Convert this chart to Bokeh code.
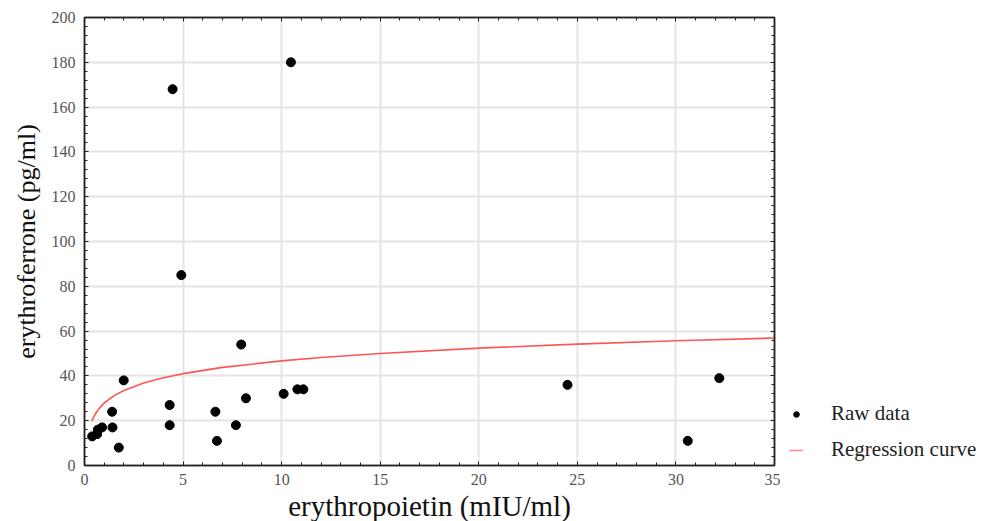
from bokeh.plotting import figure
from bokeh.layouts import row
from bokeh.models import (Legend, LegendItem, LinearAxis, Range1d, FixedTicker,
                          CustomJSTickFormatter)
from bokeh.embed import file_html
from bokeh.resources import INLINE

# Raw data
epo = [0.39, 0.64, 0.68, 0.89, 1.40, 1.42, 1.74, 1.99, 4.32, 4.32, 4.47, 4.91,
       6.64, 6.72, 7.68, 7.95, 8.19, 10.1, 10.47, 10.8, 11.1, 24.5, 30.6, 32.2]
erfe = [13, 14, 16, 17, 24, 17, 8, 38, 27, 18, 168, 85,
        24, 11, 18, 54, 30, 32, 180, 34, 34, 36, 11, 39]

# Regression curve, points
curve_x = [0.37, 0.45, 0.5, 0.6, 0.75, 1, 1.5, 2, 3, 4, 5, 7, 10, 12, 15, 20, 25, 30, 35]
curve_y = [19.8, 21.4, 22.2, 23.7, 25.5, 27.9, 31.2, 33.5, 36.8, 39.2, 41.0, 43.8,
           46.7, 48.2, 50.0, 52.4, 54.2, 55.7, 56.9]

x_ticks = [0, 5, 10, 15, 20, 25, 30, 35]
y_ticks = [0, 20, 40, 60, 80, 100, 120, 140, 160, 180, 200]
x_minor = list(range(0, 36))
y_minor = list(range(0, 201, 4))

FONT = "Liberation Serif"

p = figure(frame_width=690, frame_height=448, output_backend="svg", toolbar_location=None,
           x_range=Range1d(0, 35), y_range=Range1d(0, 200),
           min_border_left=84, min_border_right=6, min_border_top=17, min_border_bottom=56)
p.background_fill_color = "white"
p.border_fill_color = "white"
p.outline_line_color = "#333333"
p.outline_line_width = 1.5

curve = p.line(curve_x, curve_y, line_color="#ff5555", line_width=1.6)
pts = p.scatter(epo, erfe, size=9, fill_color="black", line_color="black")

def style_axis(ax):
    ax.axis_line_color = "#222222"
    ax.axis_line_width = 1.5
    ax.major_tick_line_color = "#222222"
    ax.minor_tick_line_color = "#222222"
    ax.major_tick_in = 4
    ax.major_tick_out = 0
    ax.minor_tick_in = 3
    ax.minor_tick_out = 0

for ax in (p.xaxis[0], p.yaxis[0]):
    style_axis(ax)
    ax.major_label_text_font = FONT
    ax.major_label_text_font_size = "16px"
    ax.major_label_text_color = "#555555"
    ax.axis_label_text_font = FONT
    ax.axis_label_text_font_style = "normal"
    ax.axis_label_text_color = "#111111"

p.xaxis[0].axis_label_text_font_size = "29px"
p.yaxis[0].axis_label_text_font_size = "26px"
p.xaxis[0].ticker = FixedTicker(ticks=x_ticks, minor_ticks=x_minor)
p.yaxis[0].ticker = FixedTicker(ticks=y_ticks, minor_ticks=y_minor)
p.xaxis[0].axis_label = "erythropoietin (mIU/ml)"
p.yaxis[0].axis_label = "erythroferrone (pg/ml)"
p.xaxis[0].major_label_standoff = 8
p.yaxis[0].major_label_standoff = 9
p.xaxis[0].axis_label_standoff = 2
p.yaxis[0].axis_label_standoff = 8

# top and right axes (ticks only)
blank = CustomJSTickFormatter(code="return ''")
top = LinearAxis(ticker=FixedTicker(ticks=x_ticks, minor_ticks=x_minor), formatter=blank)
right = LinearAxis(ticker=FixedTicker(ticks=y_ticks, minor_ticks=y_minor), formatter=blank)
for ax in (top, right):
    style_axis(ax)
    ax.major_label_standoff = 0
p.add_layout(top, "above")
p.add_layout(right, "right")

p.xgrid[0].ticker = FixedTicker(ticks=x_ticks)
p.ygrid[0].ticker = FixedTicker(ticks=y_ticks)
for g in (p.xgrid[0], p.ygrid[0]):
    g.grid_line_color = "#e4e4e4"
    g.grid_line_width = 2

# legend panel to the right of the plot; its proxies hold the same data,
# which falls outside this panel's (0..1) ranges so only the legend shows
lg = figure(width=226, height=521, output_backend="svg", toolbar_location=None,
            x_range=Range1d(0, 1), y_range=Range1d(0, 1),
            min_border=0, x_axis_type=None, y_axis_type=None)
lg.outline_line_color = None
lg.grid.visible = False
leg_dot = lg.scatter(epo, erfe, size=5, fill_color="black", line_color="black")
leg_line = lg.line(curve_x, curve_y, line_color="#ff8888", line_width=1.5)

legend = Legend(items=[LegendItem(label="Raw data", renderers=[leg_dot]),
                       LegendItem(label="Regression curve", renderers=[leg_line])],
                location=(9, 0))
legend.label_text_font = FONT
legend.label_text_font_size = "21px"
legend.label_text_color = "#222222"
legend.border_line_color = None
legend.background_fill_alpha = 0
legend.glyph_width = 14
legend.glyph_height = 14
legend.label_standoff = 28
legend.spacing = 11
legend.padding = 0
legend.margin = 0
lg.add_layout(legend, "center")

layout = row(p, lg, spacing=0)
open("out.html", "w").write(file_html(layout, INLINE))
